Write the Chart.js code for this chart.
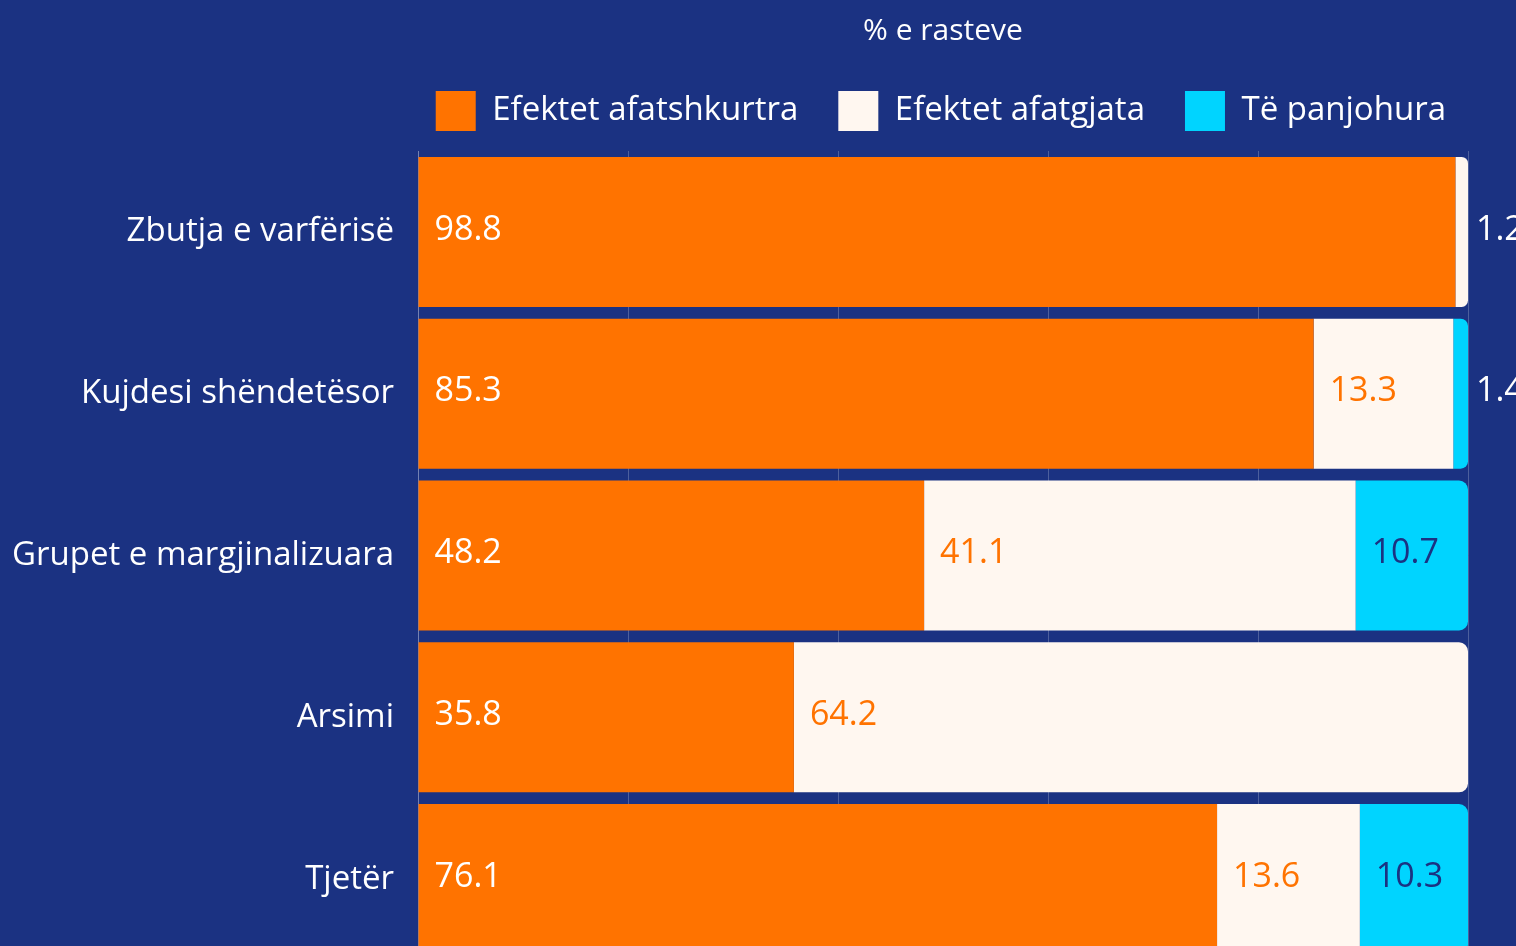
<!DOCTYPE html>
<html>
  <head>
    <title>% e rasteve</title>
    <script src="https://cdn.jsdelivr.net/npm/chart.js"></script>
    <style>
      html, body { margin: 0; padding: 0; background: #1b3282; overflow: hidden; }
    </style>
  </head>
  <body>
    <canvas id="myChart" width="1516" height="960"></canvas>
    <script>
      const categories = ["Zbutja e varfërisë", "Kujdesi shëndetësor", "Grupet e margjinalizuara", "Arsimi", "Tjetër"];
      const seriesNames = ["Efektet afatshkurtra", "Efektet afatgjata", "Të panjohura"];
      const shortTerm = [98.8, 85.3, 48.2, 35.8, 76.1];
      const longTerm = [1.2, 13.3, 41.1, 64.2, 13.6];
      const unknown = [0, 1.4, 10.7, 0, 10.3];

      const bg = "#1b3282";
      const orange = "#ff7300";
      const cream = "#fff7f0";
      const cyan = "#00d4ff";
      const fontFamily = "'Open Sans', sans-serif";

      const allSeries = [shortTerm, longTerm, unknown];

      // only the last non-empty piece of each row gets rounded right corners
      function radiusFor(ctx) {
        const row = ctx.dataIndex;
        let last = -1;
        allSeries.forEach((s, i) => { if (s[row] > 0) last = i; });
        if (ctx.datasetIndex === last) {
          return { topLeft: 0, bottomLeft: 0, topRight: 9, bottomRight: 9 };
        }
        return 0;
      }

      const labelColors = ["#ffffff", orange, bg];

      const valueLabels = {
        id: "valueLabels",
        afterInit(chart) {
          // a bit more room between legend and bars
          const fit = chart.legend.fit;
          chart.legend.fit = function () {
            fit.call(this);
            this.height += 10;
          };
        },
        afterLayout(chart) {
          // nudge the legend row so it sits over the bars
          const lg = chart.legend;
          lg.right += 22;
          lg.width += 22;
          lg.lineWidths[0] += 4;
        },
        afterDatasetsDraw(chart) {
          const ctx = chart.ctx;
          ctx.save();
          ctx.font = "34px " + fontFamily;
          ctx.textBaseline = "middle";
          ctx.textAlign = "left";
          chart.data.datasets.forEach((ds, di) => {
            const meta = chart.getDatasetMeta(di);
            meta.data.forEach((bar, i) => {
              const v = ds.data[i];
              if (!v) return;
              const left = Math.min(bar.x, bar.base);
              if (v < 5) {
                ctx.fillStyle = "#ffffff";
                ctx.fillText(v.toFixed(1), chart.chartArea.right + 8, bar.y - 2);
              } else {
                ctx.fillStyle = labelColors[di];
                ctx.fillText(v.toFixed(1), left + 16, bar.y - 2);
              }
            });
          });
          ctx.restore();
        }
      };

      const config = {
        type: "bar",
        data: {
          labels: categories,
          datasets: [
            { label: seriesNames[0], data: shortTerm, backgroundColor: orange },
            { label: seriesNames[1], data: longTerm, backgroundColor: cream },
            { label: seriesNames[2], data: unknown, backgroundColor: cyan },
          ],
        },
        options: {
          indexAxis: "y",
          responsive: false,
          animation: false,
          layout: { padding: { left: 0, right: 48, top: 0, bottom: 0 } },
          datasets: {
            bar: {
              categoryPercentage: 1,
              barPercentage: 0.927,
              borderWidth: 0,
              borderSkipped: false,
              borderRadius: radiusFor,
            },
          },
          plugins: {
            title: {
              display: true,
              fullSize: false,
              text: "% e rasteve",
              color: "#ffffff",
              font: { family: fontFamily, size: 30, weight: "normal", lineHeight: 1.2 },
              padding: { top: 13, bottom: 2 },
            },
            legend: {
              position: "top",
              align: "end",
              labels: {
                color: "#ffffff",
                boxWidth: 40,
                boxHeight: 40,
                padding: 40,
                font: { family: fontFamily, size: 33 },
              },
            },
            tooltip: { enabled: false },
          },
          scales: {
            x: {
              stacked: true,
              min: 0,
              max: 100,
              ticks: { display: false, stepSize: 20 },
              grid: { color: "rgba(255,255,255,0.22)", drawTicks: false },
              border: { display: false },
            },
            y: {
              stacked: true,
              afterFit(scale) {
                scale.width = 418;
                scale.paddingTop = 0;
                scale.paddingBottom = 0;
              },
              ticks: {
                color: "#ffffff",
                padding: 24,
                font: { family: fontFamily, size: 33 },
              },
              grid: { display: false, drawTicks: false },
              border: { color: "rgba(255,255,255,0.22)" },
            },
          },
        },
        plugins: [valueLabels],
      };

      var myChart = new Chart(document.getElementById("myChart"), config);
    </script>
  </body>
</html>
